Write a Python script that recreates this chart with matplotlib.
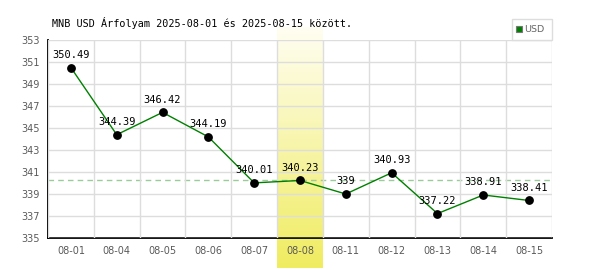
import numpy as np
import matplotlib.pyplot as plt
from matplotlib.colors import LinearSegmentedColormap

# MNB USD rates 2025-08-01 .. 2025-08-15
dates = ["08-01", "08-04", "08-05", "08-06", "08-07", "08-08",
         "08-11", "08-12", "08-13", "08-14", "08-15"]
rates = [350.49, 344.39, 346.42, 344.19, 340.01, 340.23,
         339.0, 340.93, 337.22, 338.91, 338.41]
rate_labels = ["350.49", "344.39", "346.42", "344.19", "340.01", "340.23",
               "339", "340.93", "337.22", "338.91", "338.41"]
highlight = "08-08"
y_ticks = list(range(335, 354, 2))

fig = plt.figure(figsize=(6, 2.7), dpi=100)
ax = fig.add_axes([48/600, 32/270, 504/600, 198/270])

x = np.arange(len(dates))
ax.set_xlim(-0.5, len(dates) - 0.5)
ax.set_ylim(335, 353)

# yellow gradient column behind the highlighted day
hi = dates.index(highlight)
cmap = LinearSegmentedColormap.from_list("hl", ["#fffef2", "#f0ec60"])
grad = np.linspace(0, 1, 256).reshape(-1, 1)
ax.imshow(grad, cmap=cmap, aspect="auto", origin="upper",
          extent=[hi - 0.5, hi + 0.5, 335 - 30/11, 353 + 13/11],
          clip_on=False, zorder=0.5)

# grid on column boundaries
ax.set_xticks(x)
ax.set_xticklabels(dates)
ax.set_xticks(np.arange(-0.5, len(dates), 1), minor=True)
ax.set_yticks(y_ticks)
ax.grid(which="minor", axis="x", color="#dddddd", lw=1, zorder=1)
ax.grid(which="major", axis="y", color="#dddddd", lw=1, zorder=1)
ax.tick_params(which="both", length=0)
ax.tick_params(axis="x", pad=6, labelsize=7, labelcolor="#5a5a5a")
ax.tick_params(axis="y", pad=6, labelsize=7, labelcolor="#5a5a5a")

for s in ["top", "right"]:
    ax.spines[s].set_visible(False)
ax.spines["left"].set_linewidth(1.3)
ax.spines["bottom"].set_linewidth(1.3)
ax.set_axisbelow(False)

# reference line at highlighted value
ax.axhline(rates[hi], color="#99cc99", lw=1, ls=(0, (4, 3)), zorder=2)

ax.plot(x, rates, color="#008000", lw=1, zorder=3)
ax.plot(x, rates, "o", color="black", ms=5.3, zorder=4)

for xi, v, lab in zip(x, rates, rate_labels):
    ax.annotate(lab, (xi, v), xytext=(0, 5.5), textcoords="offset points",
                ha="center", va="bottom", fontsize=7.5,
                family="DejaVu Sans Mono", color="black", zorder=5)

fig.text(52/600, 1 - 23/270, "MNB USD Árfolyam 2025-08-01 és 2025-08-15 között.",
         family="DejaVu Sans Mono", fontsize=7.3, va="center", ha="left")

# legend box
lg = plt.Rectangle((512/600, 1 - 40/270), 40/600, 21/270, transform=fig.transFigure,
                   fill=False, edgecolor="#dddddd", lw=1)
fig.add_artist(lg)
sq = plt.Rectangle((516/600, 1 - 32/270), 6/600, 6/270, transform=fig.transFigure,
                   facecolor="#008000", edgecolor="#777777", lw=0.8)
fig.add_artist(sq)
fig.text(524/600, 1 - 29/270, "USD", fontsize=6.8, color="#666666", va="center", ha="left")

fig.savefig("out.png", dpi=100)
